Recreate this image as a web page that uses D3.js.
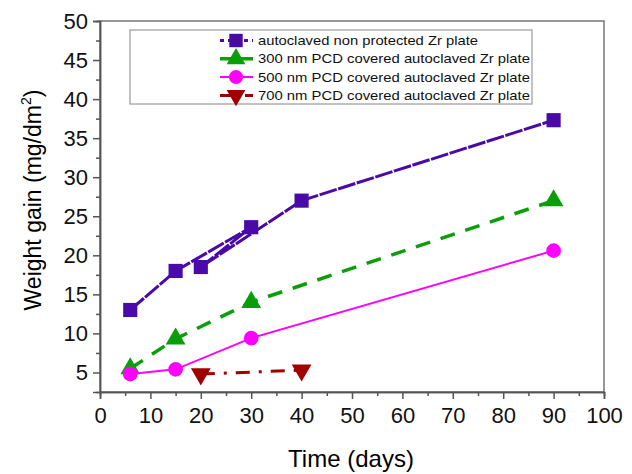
<html>
  <head>
    <script src="https://d3js.org/d3.v7.min.js"></script>
    <style>
      body { margin: 0; background: #fff; }
      text { font-family: "Liberation Sans", Arial, sans-serif; }
    </style>
  </head>
  <body>
    <script>
      // values (points in drawing order)
      var seriesNames = [
        "autoclaved non protected Zr plate",
        "300 nm PCD covered autoclaved Zr plate",
        "500 nm PCD covered autoclaved Zr plate",
        "700 nm PCD covered autoclaved Zr plate"
      ];
      var daysA = [6, 15, 30, 20, 40, 90];
      var gainA = [13.0, 18.0, 23.6, 18.5, 27.0, 37.3];
      var daysB = [6, 15, 30, 90];
      var gainB = [5.5, 9.3, 14.0, 27.0];
      var daysC = [6, 15, 30, 90];
      var gainC = [4.8, 5.4, 9.4, 20.6];
      var daysD = [20, 40];
      var gainD = [4.8, 5.3];
      var xTicks = [0, 10, 20, 30, 40, 50, 60, 70, 80, 90, 100];
      var yTicks = [5, 10, 15, 20, 25, 30, 35, 40, 45, 50];

      var width = 632, height = 474;
      var margin = { left: 100, right: 28, top: 21, bottom: 82 };

      var svg = d3.select("body").append("svg")
        .attr("width", width)
        .attr("height", height);

      var x = d3.scaleLinear().domain([0, 100]).range([margin.left, width - margin.right]);
      var y = d3.scaleLinear().domain([2.5, 50]).range([height - margin.bottom, margin.top]);

      var series = [
        { name: seriesNames[0], xs: daysA, ys: gainA, color: "#4a0aa8", dash: "18,1.5", width: 3, shape: d3.symbolSquare, size: 200, rot: 0, legDash: "4,4", tw: 220 },
        { name: seriesNames[1], xs: daysB, ys: gainB, color: "#0a9e0a", dash: "15,11", width: 3.5, shape: d3.symbolTriangle, size: 170, rot: 0, legDash: null, tw: 272 },
        { name: seriesNames[2], xs: daysC, ys: gainC, color: "#ff00ff", dash: null, width: 2, shape: d3.symbolCircle, size: 170, rot: 0, legDash: null, tw: 272 },
        { name: seriesNames[3], xs: daysD, ys: gainD, color: "#a00000", dash: "14,9,3,9", width: 3, shape: d3.symbolTriangle, size: 170, rot: 180, legDash: "14,4,3,4", tw: 272 }
      ];

      // frame
      svg.append("rect")
        .attr("x", x(0)).attr("y", y(50))
        .attr("width", x(100) - x(0)).attr("height", y(2.5) - y(50))
        .attr("fill", "none").attr("stroke", "#777").attr("stroke-width", 1.5);

      // axes
      svg.append("g")
        .attr("transform", "translate(0," + y(2.5) + ")")
        .call(d3.axisBottom(x).tickValues(xTicks).tickSize(7).tickPadding(8));
      svg.append("g")
        .attr("transform", "translate(0," + y(2.5) + ")")
        .call(d3.axisBottom(x).tickValues(d3.range(5, 100, 10)).tickSize(4).tickFormat(""));
      svg.append("g")
        .attr("transform", "translate(" + x(0) + ",0)")
        .call(d3.axisLeft(y).tickValues(yTicks).tickSize(7).tickPadding(5));
      svg.append("g")
        .attr("transform", "translate(" + x(0) + ",0)")
        .call(d3.axisLeft(y).tickValues(d3.range(7.5, 50, 5)).tickSize(4).tickFormat(""));

      svg.selectAll(".domain").attr("stroke", "#555").attr("stroke-width", 1.5);
      svg.selectAll(".tick line").attr("stroke", "#555").attr("stroke-width", 1.5);
      svg.selectAll(".tick text")
        .attr("fill", "#111")
        .style("font-family", "'Liberation Sans', Arial, sans-serif")
        .style("font-size", "22px");

      // axis titles
      svg.append("text")
        .attr("x", 351).attr("y", 467)
        .attr("text-anchor", "middle")
        .style("font-size", "24px")
        .text("Time (days)");

      var yt = svg.append("text")
        .attr("transform", "translate(41,200) rotate(-90)")
        .attr("text-anchor", "middle")
        .style("font-size", "23px");
      yt.append("tspan").text("Weight gain  (mg/dm");
      yt.append("tspan").attr("dy", -10).style("font-size", "14px").text("2");
      yt.append("tspan").attr("dy", 10).text(")");

      // lines and markers
      var line = d3.line().x(function (d) { return x(d[0]); }).y(function (d) { return y(d[1]); });

      series.forEach(function (s) {
        var pts = s.xs.map(function (v, i) { return [v, s.ys[i]]; });
        svg.append("path")
          .datum(pts)
          .attr("d", line)
          .attr("fill", "none")
          .attr("stroke", s.color)
          .attr("stroke-width", s.width)
          .attr("stroke-dasharray", s.dash);
        svg.append("g").selectAll("path")
          .data(pts)
          .enter().append("path")
          .attr("d", d3.symbol().type(s.shape).size(s.size))
          .attr("transform", function (d) { return "translate(" + x(d[0]) + "," + y(d[1]) + ") rotate(" + s.rot + ")"; })
          .attr("fill", s.color);
      });

      // legend
      var lg = svg.append("g");
      lg.append("rect")
        .attr("x", 130).attr("y", 30).attr("width", 402).attr("height", 74)
        .attr("fill", "#fff").attr("stroke", "#999").attr("stroke-width", 1.2);

      series.forEach(function (s, i) {
        var cy = 40.5 + i * 18.3;
        lg.append("line")
          .attr("x1", 220).attr("x2", 253).attr("y1", cy).attr("y2", cy)
          .attr("stroke", s.color).attr("stroke-width", s.width)
          .attr("stroke-dasharray", s.legDash);
        lg.append("path")
          .attr("d", d3.symbol().type(s.shape).size(s.size * 0.9))
          .attr("transform", "translate(236," + cy + ") rotate(" + s.rot + ")")
          .attr("fill", s.color);
        lg.append("text")
          .attr("x", 258).attr("y", cy + 4.5)
          .style("font-size", "13px")
          .attr("textLength", s.tw)
          .attr("lengthAdjust", "spacingAndGlyphs")
          .attr("fill", "#111")
          .text(s.name);
      });
    </script>
  </body>
</html>
